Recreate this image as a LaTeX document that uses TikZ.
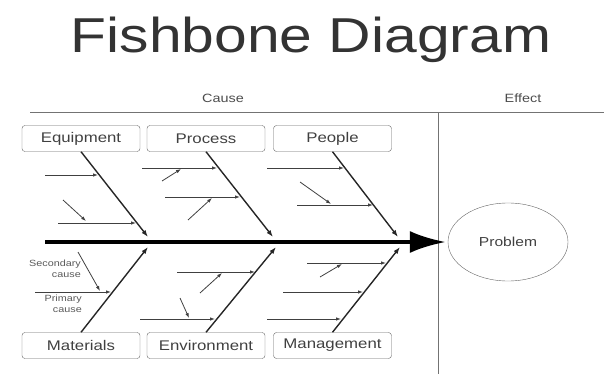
\documentclass[tikz,border=0pt]{standalone}
\usepackage{fontspec}
\setmainfont{Liberation Sans}[FakeStretch=1.2]
\usetikzlibrary{arrows.meta,shapes.geometric}

\begin{document}
\begin{tikzpicture}[x=1pt,y=-1pt,
	box/.style={draw=black!60, rounded corners=3pt, minimum width=118pt, minimum height=26pt, inner sep=0pt, font=\fontsize{14}{16}\selectfont, text=black!75},
	bone/.style={line width=1.4pt, draw=black!85, -{Latex[length=7pt,width=5pt]}},
	cause/.style={line width=0.8pt, draw=black!75, -{Latex[length=5pt,width=3.5pt]}},
	note/.style={font=\fontsize{9}{11}\selectfont, text=black!65, align=right, inner sep=0pt},
	frame/.style={line width=1pt, draw=black!55}]
	\useasboundingbox (0,0) rectangle (604,374);
	% title and header
	\node[anchor=base, text=black!80] (title) at (311,53) {\fontsize{49}{55}\selectfont Fishbone Diagram};
	\node[font=\fontsize{12}{14}\selectfont, text=black!70] (cause) at (223,98) {Cause};
	\node[font=\fontsize{12}{14}\selectfont, text=black!70] (effect) at (523,98) {Effect};
	\coordinate (hl) at (30,113);
	\coordinate (hr) at (604,113);
	\coordinate (vt) at (438,113);
	\coordinate (vb) at (438,374);
	\draw[frame] (hl) -- (hr);
	\draw[frame] (vt) -- (vb);
	% categories
	\node[box] (equip) at (81,138.5) {Equipment};
	\node[box] (proc) at (206,138.5) {Process};
	\node[box] (people) at (332.5,138.5) {People};
	\node[box] (mat) at (81,345.5) {Materials};
	\node[box] (env) at (206,345.5) {Environment};
	\node[box] (mgmt) at (332.5,345.5) {Management};
	% spine
	\node[ellipse, draw=black!60, minimum width=120pt, minimum height=78pt, font=\fontsize{13}{15}\selectfont, text=black!75] (problem) at (508,242) {Problem};
	\coordinate (tail) at (45,242);
	\draw[line width=4pt, -{Latex[length=36pt,width=22pt]}, shorten >=2pt] (tail) -- (problem.west);
	% bones
	\coordinate (equipend) at (148,237);
	\coordinate (procend) at (273,237);
	\coordinate (peopleend) at (398,237);
	\coordinate (matend) at (148,247);
	\coordinate (envend) at (276,247);
	\coordinate (mgmtend) at (400,247);
	\draw[bone] (equip.south) -- (equipend);
	\draw[bone] (proc.south) -- (procend);
	\draw[bone] (people.south) -- (peopleend);
	\draw[bone] (mat.north) -- (matend);
	\draw[bone] (env.north) -- (envend);
	\draw[bone] (mgmt.north) -- (mgmtend);
	% equipment causes
	\coordinate (e1) at (45,175);   \coordinate (e1t) at (98,175);
	\coordinate (e2) at (58,223);   \coordinate (e2t) at (136,223);
	\coordinate (es) at (63,200);   \coordinate (est) at (86,221);
	\draw[cause] (e1) -- (e1t);
	\draw[cause] (e2) -- (e2t);
	\draw[cause] (es) -- (est);
	% process causes
	\coordinate (p1) at (142,168);  \coordinate (p1t) at (217,168);
	\coordinate (p2) at (165,197);  \coordinate (p2t) at (240,197);
	\coordinate (ps1) at (162,181); \coordinate (ps1t) at (181,169);
	\coordinate (ps2) at (188,220); \coordinate (ps2t) at (212,198);
	\draw[cause] (p1) -- (p1t);
	\draw[cause] (p2) -- (p2t);
	\draw[cause] (ps1) -- (ps1t);
	\draw[cause] (ps2) -- (ps2t);
	% people causes
	\coordinate (q1) at (267,168);  \coordinate (q1t) at (344,168);
	\coordinate (q2) at (297,205);  \coordinate (q2t) at (373,205);
	\coordinate (qs) at (300,182);  \coordinate (qst) at (331,204);
	\draw[cause] (q1) -- (q1t);
	\draw[cause] (q2) -- (q2t);
	\draw[cause] (qs) -- (qst);
	% materials causes
	\coordinate (m1) at (35,292);   \coordinate (m1t) at (111,292);
	\coordinate (ms) at (78,252);   \coordinate (mst) at (100,291);
	\draw[cause] (m1) -- (m1t);
	\draw[cause] (ms) -- (mst);
	\node[note, anchor=east] (secondary) at (81,269) {Secondary\\cause};
	\node[note, anchor=east] (primary) at (82,304) {Primary\\cause};
	% environment causes
	\coordinate (v1) at (177,272);  \coordinate (v1t) at (255,272);
	\coordinate (v2) at (140,319);  \coordinate (v2t) at (215,319);
	\coordinate (vs1) at (200,293); \coordinate (vs1t) at (222,273);
	\coordinate (vs2) at (180,298); \coordinate (vs2t) at (189,318);
	\draw[cause] (v1) -- (v1t);
	\draw[cause] (v2) -- (v2t);
	\draw[cause] (vs1) -- (vs1t);
	\draw[cause] (vs2) -- (vs2t);
	% management causes
	\coordinate (g1) at (307,263);  \coordinate (g1t) at (386,263);
	\coordinate (g2) at (283,292);  \coordinate (g2t) at (363,292);
	\coordinate (g3) at (267,319);  \coordinate (g3t) at (341,319);
	\coordinate (gs) at (320,277);  \coordinate (gst) at (342,264);
	\draw[cause] (g1) -- (g1t);
	\draw[cause] (g2) -- (g2t);
	\draw[cause] (g3) -- (g3t);
	\draw[cause] (gs) -- (gst);
\end{tikzpicture}
\end{document}
